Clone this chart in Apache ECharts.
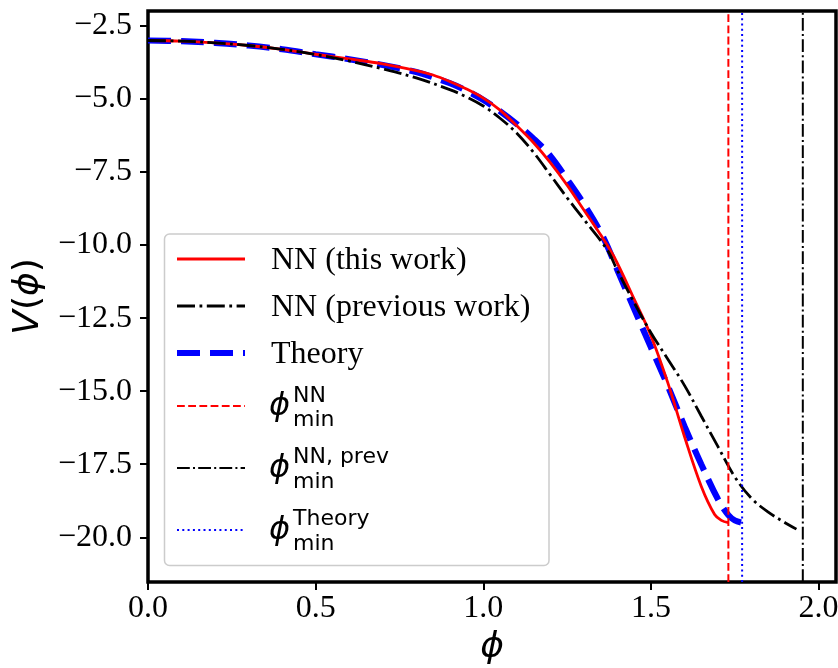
<!DOCTYPE html>
<html>
<head>
<meta charset="utf-8">
<script src="https://cdn.jsdelivr.net/npm/echarts@6/dist/echarts.min.js"></script>
<style>html,body{margin:0;padding:0;background:#fff}#c{width:838px;height:668px}</style>
</head>
<body>
<div id="c"></div>
<script>
// ---- data ----
const nnX = [0, 0.1, 0.2, 0.3, 0.4, 0.5, 0.6, 0.7, 0.8, 0.85, 0.9, 0.95, 1.0, 1.05, 1.1, 1.15, 1.2, 1.25, 1.3, 1.35, 1.39, 1.45, 1.5, 1.55, 1.6, 1.65, 1.69, 1.71, 1.731];
const nnV = [-3.0, -3.02, -3.08, -3.17, -3.3, -3.47, -3.63, -3.8, -4.03, -4.18, -4.4, -4.66, -4.97, -5.38, -5.92, -6.5, -7.18, -7.95, -8.8, -9.65, -10.4, -11.85, -13.1, -14.7, -16.55, -18.25, -19.22, -19.42, -19.5];

const prevX = [0, 0.1, 0.2, 0.3, 0.4, 0.5, 0.6, 0.7, 0.8, 0.9, 0.95, 1.0, 1.05, 1.1, 1.15, 1.2, 1.25, 1.3, 1.37, 1.4, 1.45, 1.5, 1.55, 1.6, 1.65, 1.7, 1.75, 1.8, 1.85, 1.9, 1.934];
const prevV = [-3.0, -3.02, -3.08, -3.17, -3.3, -3.48, -3.7, -3.97, -4.28, -4.68, -4.93, -5.24, -5.66, -6.17, -6.83, -7.6, -8.38, -9.12, -10.17, -10.87, -11.97, -13.0, -13.9, -14.8, -15.85, -16.9, -17.93, -18.67, -19.14, -19.5, -19.72];

const theoryX = [0, 0.1, 0.2, 0.3, 0.4, 0.5, 0.6, 0.7, 0.8, 0.9, 0.95, 1.0, 1.05, 1.1, 1.15, 1.2, 1.25, 1.3, 1.357, 1.4, 1.447, 1.5, 1.547, 1.6, 1.65, 1.7, 1.731, 1.75, 1.772];
const theoryV = [-3.0, -3.02, -3.08, -3.17, -3.3, -3.47, -3.64, -3.84, -4.08, -4.46, -4.72, -5.03, -5.42, -5.86, -6.36, -6.95, -7.75, -8.6, -9.72, -10.85, -12.1, -13.5, -14.73, -16.2, -17.5, -18.7, -19.24, -19.42, -19.5];

const phiMinNN = [1.731];
const phiMinPrev = [1.953];
const phiMinTheory = [1.772];

const xTicks = [0, 0.5, 1.0, 1.5, 2.0];
const yTicks = [-20, -17.5, -15, -12.5, -10, -7.5, -5, -2.5];
const xRange = [0, 2.052];
const yRange = [-21.53, -1.99];

const seriesNames = ['NN (this work)', 'NN (previous work)', 'Theory'];

// ---- helpers ----
const pairs = (xs, ys) => xs.map((x, i) => [x, ys[i]]);
const vline = xs => [[xs[0], yRange[0]], [xs[0], yRange[1]]];
const fmt = v => (v < 0 ? '\u2212' : '') + Math.abs(v).toFixed(1);

const chart = echarts.init(document.getElementById('c'), null, {renderer: 'canvas', width: 838, height: 668});

const serif = 'Liberation Serif';
const sans = 'DejaVu Sans';

function txt(x, y, text, size, family, italic) {
  return {
    type: 'text', x: x, y: y, z: 200,
    style: {
      text: text,
      font: (italic ? 'italic ' : '') + size + 'px "' + family + '"',
      fill: '#000',
      align: 'left', verticalAlign: 'middle',
      textAlign: 'left', textVerticalAlign: 'middle'
    }
  };
}
function sample(y, color, width, dash) {
  return {
    type: 'line', z: 200,
    shape: {x1: 177, y1: y, x2: 245, y2: y},
    style: {stroke: color, lineWidth: width, lineDash: dash || null, lineCap: 'butt'}
  };
}

const legendGraphics = [
  {type: 'rect', z: 190, shape: {x: 164.5, y: 234, width: 384.5, height: 331.5, r: 5},
   style: {fill: 'rgba(255,255,255,0.8)', stroke: '#cccccc', lineWidth: 1.5}},
  sample(259, '#ff0000', 2.8, null),
  txt(271, 260.5, seriesNames[0], 32, serif, false),
  sample(306, '#000000', 2.8, [18, 4.5, 2.8, 4.5]),
  txt(271, 307.5, seriesNames[1], 32, serif, false),
  sample(353, '#0000ff', 6.2, [23, 10]),
  txt(271, 354.5, seriesNames[2], 32, serif, false),
  sample(406, '#ff0000', 2, [7.8, 3.4]),
  txt(269, 407, '\u03D5', 32, sans, true),
  txt(293, 396, 'NN', 22, sans, false),
  txt(293, 420, 'min', 22, sans, false),
  sample(468, '#000000', 2, [12.8, 3.2, 2, 3.2]),
  txt(269, 469, '\u03D5', 32, sans, true),
  txt(293, 457.5, 'NN, prev', 22, sans, false),
  txt(293, 482, 'min', 22, sans, false),
  sample(530, '#0000ff', 2, [2, 3.3]),
  txt(269, 531, '\u03D5', 32, sans, true),
  txt(293, 519.5, 'Theory', 22, sans, false),
  txt(293, 544, 'min', 22, sans, false)
];

const option = {
  animation: false,
  backgroundColor: '#ffffff',
  grid: {left: 148, top: 11, right: 2, bottom: 86, show: true, borderColor: '#000', borderWidth: 3.5,
         backgroundColor: 'transparent', containLabel: false, outerBoundsMode: 'none'},
  xAxis: {
    type: 'value', min: xRange[0], max: xRange[1],
    axisLine: {show: false},
    splitLine: {show: false},
    axisTick: {show: true, customValues: xTicks, length: 8, lineStyle: {color: '#000', width: 2}},
    axisLabel: {customValues: xTicks, formatter: fmt, fontFamily: serif, fontSize: 32, color: '#000', margin: 11, hideOverlap: false},
    name: '\u03D5', nameLocation: 'middle', nameGap: 48,
    nameTextStyle: {fontFamily: sans, fontStyle: 'italic', fontSize: 36, color: '#000'}
  },
  yAxis: {
    type: 'value', min: yRange[0], max: yRange[1],
    axisLine: {show: false},
    splitLine: {show: false},
    axisTick: {show: true, customValues: yTicks, length: 8, lineStyle: {color: '#000', width: 2}},
    axisLabel: {customValues: yTicks, formatter: fmt, fontFamily: serif, fontSize: 32, color: '#000', margin: 16,
                padding: [5, 0, 0, 0], hideOverlap: false},
    name: '{i|V}{r|(}{i|\u03D5}{r|)}', nameLocation: 'middle', nameGap: 99,
    nameTextStyle: {color: '#000', rich: {
      i: {fontFamily: sans, fontStyle: 'italic', fontSize: 36, color: '#000'},
      r: {fontFamily: sans, fontSize: 36, color: '#000'}
    }}
  },
  series: [
    {name: seriesNames[2], type: 'line', z: 2, data: pairs(theoryX, theoryV), smooth: 0.35, symbol: 'none',
     lineStyle: {color: '#0000ff', width: 6.2, type: [23, 10], cap: 'butt'}},
    {name: seriesNames[0], type: 'line', z: 3, data: pairs(nnX, nnV), smooth: 0.35, symbol: 'none',
     lineStyle: {color: '#ff0000', width: 2.8}},
    {name: seriesNames[1], type: 'line', z: 4, data: pairs(prevX, prevV), smooth: 0.35, symbol: 'none',
     lineStyle: {color: '#000000', width: 2.8, type: [18, 4.5, 2.8, 4.5], cap: 'butt'}},
    {name: 'phiNN', type: 'line', z: 5, data: vline(phiMinNN), symbol: 'none',
     lineStyle: {color: '#ff0000', width: 2, type: [7.8, 3.4]}},
    {name: 'phiPrev', type: 'line', z: 5, data: vline(phiMinPrev), symbol: 'none',
     lineStyle: {color: '#000000', width: 2, type: [12.8, 3.2, 2, 3.2]}},
    {name: 'phiTheory', type: 'line', z: 5, data: vline(phiMinTheory), symbol: 'none',
     lineStyle: {color: '#0000ff', width: 2, type: [2, 3.3]}}
  ],
  graphic: legendGraphics
};
chart.setOption(option);
</script>
</body>
</html>
